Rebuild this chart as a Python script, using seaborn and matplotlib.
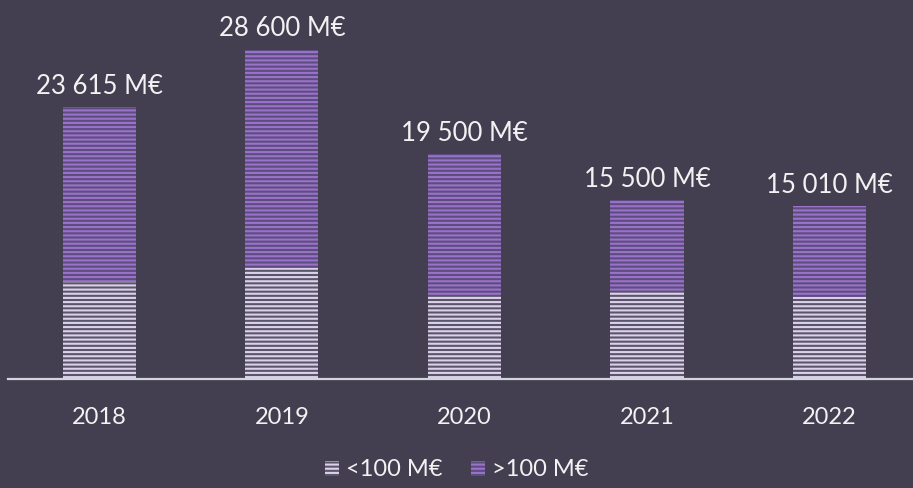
import matplotlib
matplotlib.use("Agg")
import pandas as pd
import seaborn as sns
import matplotlib.pyplot as plt
from matplotlib.patches import Patch

years = ["2018", "2019", "2020", "2021", "2022"]
small = [8400, 9650, 7200, 7550, 7100]       # <100 M€
large = [15215, 18950, 12300, 7950, 7910]    # >100 M€
totals = [23615, 28600, 19500, 15500, 15010]
total_labels = ["23 615 M€", "28 600 M€", "19 500 M€", "15 500 M€", "15 010 M€"]

bg = "#433f51"
light_line, light_fill = "#dcd0ea", "#5a566a"
purple_line, purple_fill = "#9b72c9", "#5c4d7e"
text_col = "#f2f2f2"

plt.rcParams["hatch.linewidth"] = 1.5
plt.rcParams["font.family"] = ["Lato", "DejaVu Sans"]

df = pd.DataFrame({"year": years, "small": small, "large": large})

fig = plt.figure(figsize=(9.13, 4.88), dpi=100, facecolor=bg)
ax = fig.add_axes([8 / 913, 109 / 488, 905 / 913, 379 / 488])
ax.set_facecolor(bg)

sns.barplot(data=df, x="year", y="small", color=light_fill, saturation=1,
            width=0.4, hatch="----", edgecolor=light_line, linewidth=0, ax=ax)
sns.barplot(data=df, x="year", y="large", bottom=df["small"], color=purple_fill,
            saturation=1, width=0.4, hatch="----", edgecolor=purple_line,
            linewidth=0, ax=ax)

for i, (t, lab) in enumerate(zip(totals, total_labels)):
    ax.annotate(lab, (i, t), xytext=(0, 6), textcoords="offset points",
                ha="center", va="bottom", fontsize=18.5, color=text_col)

ax.set_xlim(-0.5, 4.457)
ax.set_ylim(0, 32900)
ax.set_xlabel("")
ax.set_ylabel("")
ax.set_yticks([])
for s in ["top", "right", "left"]:
    ax.spines[s].set_visible(False)
ax.spines["bottom"].set_color("#d4d4dc")
ax.spines["bottom"].set_linewidth(1.6)
ax.tick_params(axis="x", length=0, pad=20, labelsize=17, labelcolor=text_col)

handles = [
    Patch(facecolor=light_fill, edgecolor=light_line, hatch="----", linewidth=0, label="<100 M€"),
    Patch(facecolor=purple_fill, edgecolor=purple_line, hatch="----", linewidth=0, label=">100 M€"),
]
fig.legend(handles=handles, loc="center", bbox_to_anchor=(0.5, 18 / 488), ncol=2,
           frameon=False, fontsize=17, labelcolor=text_col,
           handlelength=0.6, handleheight=0.6, handletextpad=0.3, columnspacing=1.2)

fig.savefig("out.png", dpi=100, facecolor=bg)
